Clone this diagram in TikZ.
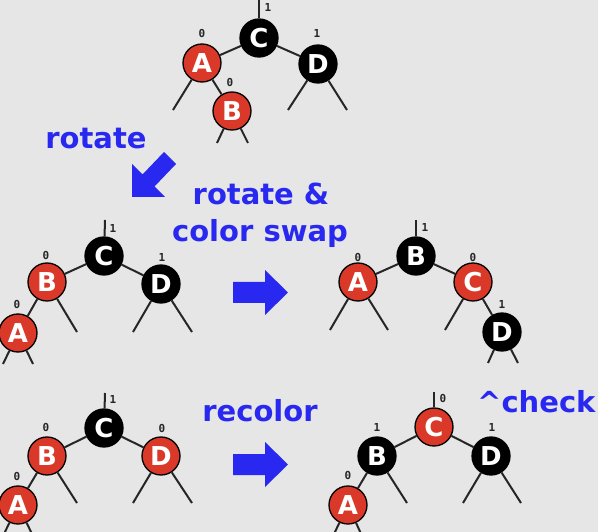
\documentclass[tikz,border=0pt]{standalone}
\usepackage{fontspec}
\setmainfont{DejaVu Sans}
\newfontfamily\monofnt{DejaVu Sans Mono}
\definecolor{bg}{RGB}{229,230,229}
\definecolor{rbred}{RGB}{218,56,40}
\definecolor{ablue}{RGB}{40,40,240}
\tikzset{
  rbnode/.style={circle, minimum size=38pt, inner sep=0pt, draw=black, line width=1.3pt,
     fill=rbred, text=white, font=\fontsize{26}{26}\selectfont\bfseries},
  bknode/.style={rbnode, fill=black},
  edge/.style={line width=2pt, draw=black!85},
  hlabel/.style={inner sep=0pt, font=\monofnt\fontsize{11}{11}\selectfont\bfseries, text=black!85},
  btext/.style={anchor=base, inner sep=0pt, text=ablue, font=\fontsize{29}{29}\selectfont\bfseries},
  barrow/.style={fill=ablue, draw=none}
}
\begin{document}
\begin{tikzpicture}[x=1pt,y=-1pt]
\fill[bg] (0,0) rectangle (598,532);
\clip (0,0) rectangle (598,532);
\useasboundingbox (0,0) rectangle (598,532);

% ---------- top tree ----------
\node[bknode] (aC) at (259,38) {C};
\node[rbnode] (aA) at (202,63) {A};
\node[bknode] (aD) at (318,64) {D};
\node[rbnode] (aB) at (232,111) {B};
\coordinate (aCs) at (259,0);
\coordinate (aAl) at (173,110);
\coordinate (aDl) at (288,110);
\coordinate (aDr) at (347,110);
\coordinate (aBl) at (217,143);
\coordinate (aBr) at (248,143);
\draw[edge] (aC) -- (aCs);
\draw[edge] (aC) -- (aA);
\draw[edge] (aC) -- (aD);
\draw[edge] (aA) -- (aB);
\draw[edge] (aA) -- (aAl);
\draw[edge] (aD) -- (aDl);
\draw[edge] (aD) -- (aDr);
\draw[edge] (aB) -- (aBl);
\draw[edge] (aB) -- (aBr);
\node[hlabel] (aCh) at (268,7) {1};
\node[hlabel] (aAh) at (202,33) {0};
\node[hlabel] (aDh) at (317,33) {1};
\node[hlabel] (aBh) at (230,82) {0};

% ---------- middle left ----------
\node[bknode] (bC) at (104,256) {C};
\node[rbnode] (bB) at (47,282) {B};
\node[bknode] (bD) at (161,284) {D};
\node[rbnode] (bA) at (18,333) {A};
\coordinate (bCs) at (105,220);
\coordinate (bBr) at (77,332);
\coordinate (bDl) at (133,332);
\coordinate (bDr) at (192,332);
\coordinate (bAl) at (3,364);
\coordinate (bAr) at (33,364);
\draw[edge] (bC) -- (bCs);
\draw[edge] (bC) -- (bB);
\draw[edge] (bC) -- (bD);
\draw[edge] (bB) -- (bA);
\draw[edge] (bB) -- (bBr);
\draw[edge] (bD) -- (bDl);
\draw[edge] (bD) -- (bDr);
\draw[edge] (bA) -- (bAl);
\draw[edge] (bA) -- (bAr);
\node[hlabel] (bCh) at (113,228) {1};
\node[hlabel] (bBh) at (46,255) {0};
\node[hlabel] (bDh) at (162,257) {1};
\node[hlabel] (bAh) at (17,304) {0};

% ---------- middle right ----------
\node[bknode] (cB) at (416,256) {B};
\node[rbnode] (cA) at (358,282) {A};
\node[rbnode] (cC) at (473,282) {C};
\node[bknode] (cD) at (502,332) {D};
\coordinate (cBs) at (416,220);
\coordinate (cAl) at (330,330);
\coordinate (cAr) at (388,330);
\coordinate (cCl) at (445,330);
\coordinate (cDl) at (488,363);
\coordinate (cDr) at (518,363);
\draw[edge] (cB) -- (cBs);
\draw[edge] (cB) -- (cA);
\draw[edge] (cB) -- (cC);
\draw[edge] (cC) -- (cD);
\draw[edge] (cA) -- (cAl);
\draw[edge] (cA) -- (cAr);
\draw[edge] (cC) -- (cCl);
\draw[edge] (cD) -- (cDl);
\draw[edge] (cD) -- (cDr);
\node[hlabel] (cBh) at (425,227) {1};
\node[hlabel] (cAh) at (358,257) {0};
\node[hlabel] (cCh) at (473,257) {0};
\node[hlabel] (cDh) at (502,304) {1};

% ---------- bottom left ----------
\node[bknode] (dC) at (104,428) {C};
\node[rbnode] (dB) at (47,456) {B};
\node[rbnode] (dD) at (161,456) {D};
\node[rbnode] (dA) at (18,505) {A};
\coordinate (dCs) at (105,393);
\coordinate (dBr) at (77,503);
\coordinate (dDl) at (133,503);
\coordinate (dDr) at (192,503);
\coordinate (dAl) at (3,536);
\coordinate (dAr) at (33,536);
\draw[edge] (dC) -- (dCs);
\draw[edge] (dC) -- (dB);
\draw[edge] (dC) -- (dD);
\draw[edge] (dB) -- (dA);
\draw[edge] (dB) -- (dBr);
\draw[edge] (dD) -- (dDl);
\draw[edge] (dD) -- (dDr);
\draw[edge] (dA) -- (dAl);
\draw[edge] (dA) -- (dAr);
\node[hlabel] (dCh) at (113,399) {1};
\node[hlabel] (dBh) at (46,427) {0};
\node[hlabel] (dDh) at (162,428) {0};
\node[hlabel] (dAh) at (17,476) {0};

% ---------- bottom right ----------
\node[rbnode] (eC) at (434,427) {C};
\node[bknode] (eB) at (377,456) {B};
\node[bknode] (eD) at (491,456) {D};
\node[rbnode] (eA) at (348,505) {A};
\coordinate (eCs) at (434,392);
\coordinate (eBr) at (407,503);
\coordinate (eDl) at (463,503);
\coordinate (eDr) at (521,503);
\coordinate (eAl) at (333,536);
\coordinate (eAr) at (362,536);
\draw[edge] (eC) -- (eCs);
\draw[edge] (eC) -- (eB);
\draw[edge] (eC) -- (eD);
\draw[edge] (eB) -- (eA);
\draw[edge] (eB) -- (eBr);
\draw[edge] (eD) -- (eDl);
\draw[edge] (eD) -- (eDr);
\draw[edge] (eA) -- (eAl);
\draw[edge] (eA) -- (eAr);
\node[hlabel] (eCh) at (443,398) {0};
\node[hlabel] (eBh) at (377,427) {1};
\node[hlabel] (eDh) at (492,427) {1};
\node[hlabel] (eAh) at (348,475) {0};

% ---------- blue texts ----------
\node[btext] (t1) at (96,149) {rotate};
\node[btext] (t2) at (261,205) {rotate \&};
\node[btext] (t3) at (260,242) {color swap};
\node[btext] (t4) at (260,421) {recolor};
\node[btext, anchor=base west] (t5) at (477,412) {\^{}check};

% ---------- blue arrows ----------
\fill[barrow] (132,197) -- (132.2,164.2) -- (142.5,174.5) -- (164,152) -- (176,164)
   -- (154.5,186.5) -- (164.8,196.8) -- cycle;
\fill[barrow] (233,282) -- (265,282) -- (265,270) -- (288,292.5) -- (265,315)
   -- (265,303) -- (233,303) -- cycle;
\fill[barrow] (233,454) -- (265,454) -- (265,442) -- (288,464.5) -- (265,487)
   -- (265,475) -- (233,475) -- cycle;
\end{tikzpicture}
\end{document}
